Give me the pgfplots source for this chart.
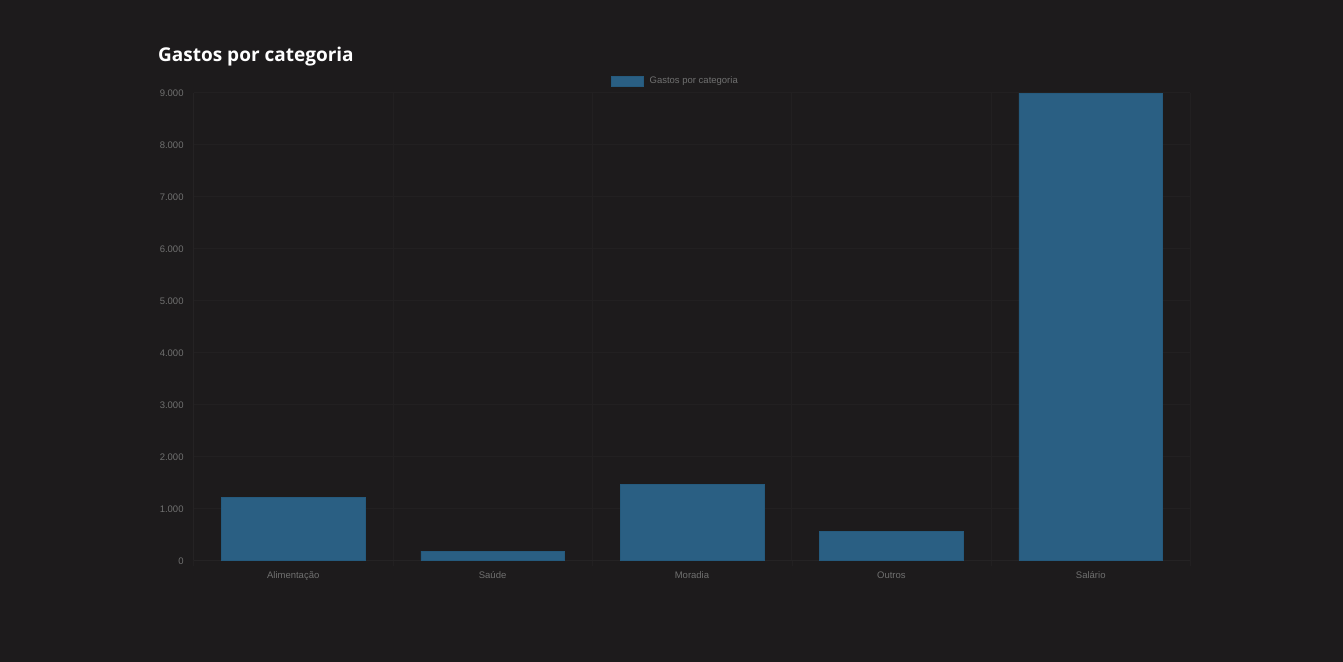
\documentclass[border=0pt]{standalone}
\usepackage{fontspec}
\setmainfont{Liberation Sans}
\newfontfamily\titlefont{Open Sans}
\usepackage{pgfplots}
\pgfplotsset{compat=1.18}
\definecolor{bg}{HTML}{1D1B1C}
\definecolor{barfill}{HTML}{2A5F83}
\definecolor{bardraw}{HTML}{255A7D}
\definecolor{ticktext}{HTML}{707070}
\definecolor{gridc}{HTML}{222021}
\definecolor{axisc}{HTML}{252324}
\begin{document}
\begin{tikzpicture}[x=1bp,y=1bp]
\fill[bg] (0,0) rectangle (1343,662);
\node[anchor=base west, text=white, font=\titlefont\bfseries\fontsize{19bp}{22bp}\selectfont, inner sep=0] at (158,600) {Gastos por categoria};
\begin{axis}[
  at={(193.5bp,101.5bp)}, anchor=south west,
  width=997bp, height=467.8bp, scale only axis,
  xmin=-0.5, xmax=4.5, ymin=0, ymax=9000,
  axis lines*=left,
  axis line style={draw=axisc},
  xtick={0,1,2,3,4},
  xticklabels={Alimentação,Saúde,Moradia,Outros,Salário},
  major x tick style={draw=none},
  minor xtick={-0.5,0.5,1.5,2.5,3.5,4.5},
  xminorgrids, minor x grid style={draw=gridc},
  minor x tick style={draw=gridc},
  minor tick length=6bp, tick align=outside,
  ytick={0,1000,2000,3000,4000,5000,6000,7000,8000,9000},
  yticklabels={0,1.000,2.000,3.000,4.000,5.000,6.000,7.000,8.000,9.000},
  major y tick style={draw=none},
  ymajorgrids, major y grid style={draw=gridc},
  tick label style={font=\fontsize{9.5bp}{11bp}\selectfont, text=ticktext, inner sep=0pt},
  yticklabel style={anchor=east, xshift=-5.5bp, yshift=-0.5bp},
  xticklabel style={anchor=north, yshift=-7bp},
  legend style={at={(0.4188,1.025)}, anchor=west, draw=none, fill=none,
    text=ticktext, font=\fontsize{9.5bp}{11bp}\selectfont,
    inner sep=0pt, nodes={inner sep=0pt}, /tikz/column sep=6bp},
]
\addplot[ybar, bar width=0.72, bar shift=0pt, fill=barfill, draw=bardraw,
  legend image code/.code={\fill[barfill, draw=bardraw] (0bp,-4.8bp) rectangle (32bp,4.8bp);}]
  coordinates {(0,1220) (1,180) (2,1460) (3,560) (4,8990)};
\addlegendentry{Gastos por categoria}
\end{axis}
\end{tikzpicture}
\end{document}
